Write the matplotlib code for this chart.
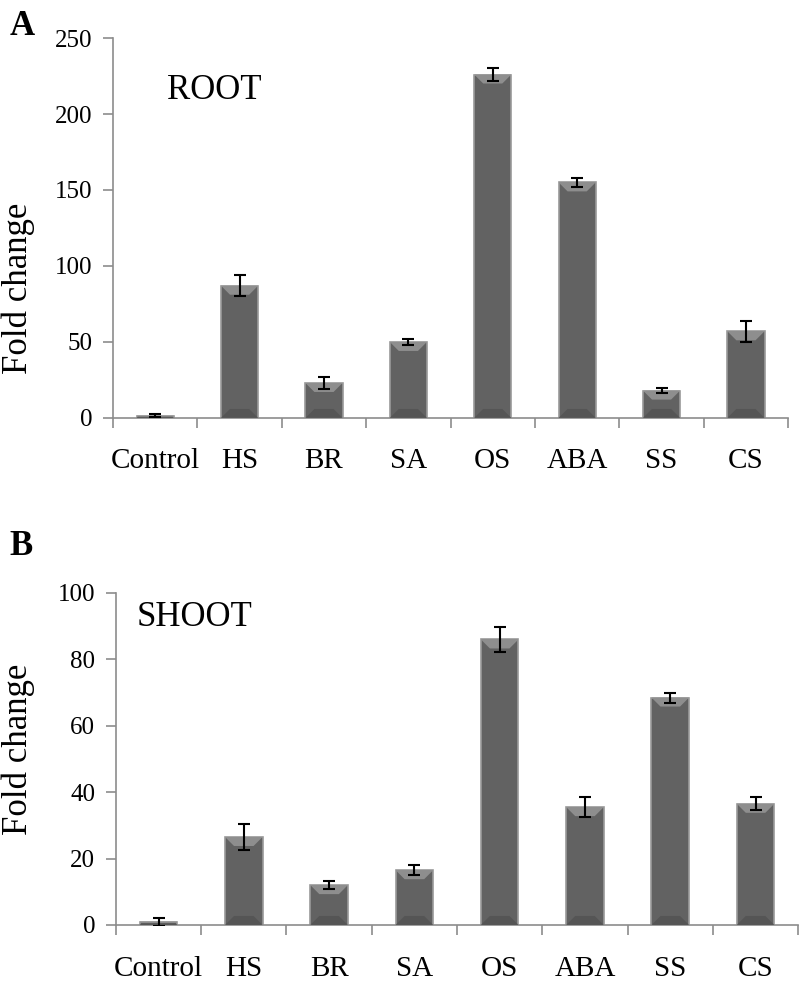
import matplotlib.pyplot as plt
from matplotlib.patches import Polygon

plt.rcParams['font.family'] = ['Liberation Serif', 'DejaVu Serif']

categories = ["Control", "HS", "BR", "SA", "OS", "ABA", "SS", "CS"]

root_values = [1.5, 87, 23, 50, 226, 155, 18, 57]
root_errors = [1, 7, 4, 2, 4, 3, 1.5, 7]

shoot_values = [1, 26.5, 12, 16.5, 86, 35.5, 68.5, 36.5]
shoot_errors = [1.2, 4, 1.2, 1.5, 3.8, 3, 1.5, 2]

fig = plt.figure(figsize=(7.99, 9.88), dpi=100)

axA = fig.add_axes([0.1414, 0.577, 0.845, 0.3845])
axB = fig.add_axes([0.145, 0.0638, 0.854, 0.336])

axis_gray = "#8c8c8c"


def draw_panel(ax, values, errors, ymax, step, title, title_xy):
    x = range(len(categories))
    width = 0.44
    ax.bar(x, values, width=width, color="#626262", edgecolor="#9a9a9a",
           linewidth=1.2, zorder=2)
    # bevel on top and bottom of each bar (about 9 px deep)
    px_per_unit = ax.get_position().height * fig.bbox.height / ymax
    px_per_cat = ax.get_position().width * fig.bbox.width / len(categories)
    d = 9 / px_per_unit
    for i, v in enumerate(values):
        l, r = i - width / 2, i + width / 2
        dd = min(d, v / 2)
        dx = dd * px_per_unit / px_per_cat
        ax.add_patch(Polygon([(l, v), (r, v), (r - dx, v - dd), (l + dx, v - dd)],
                             closed=True, facecolor="#8e8e8e", edgecolor="none", zorder=3))
        ax.add_patch(Polygon([(l, 0), (r, 0), (r - dx, dd), (l + dx, dd)],
                             closed=True, facecolor="#555555", edgecolor="none", zorder=3))
    ax.errorbar(x, values, yerr=errors, fmt="none", ecolor="black",
                elinewidth=1.5, capsize=4, capthick=1.5, zorder=4)
    ax.set_xlim(-0.5, len(categories) - 0.5)
    ax.set_ylim(0, ymax)
    ax.set_yticks(range(0, ymax + 1, step))
    ax.set_xticks([i - 0.5 for i in range(len(categories) + 1)], minor=False)
    ax.set_xticklabels([])
    ax.set_xticks(list(x), minor=True)
    ax.set_xticklabels(categories, minor=True, fontsize=21)
    ax.tick_params(axis="x", which="minor", length=0, pad=22)
    ax.tick_params(axis="x", which="major", length=7, color=axis_gray, width=1.2)
    ax.tick_params(axis="y", length=7, color=axis_gray, width=1.2, labelsize=18, pad=8)
    for s in ["top", "right"]:
        ax.spines[s].set_visible(False)
    for s in ["left", "bottom"]:
        ax.spines[s].set_color(axis_gray)
        ax.spines[s].set_linewidth(1.2)
    ax.set_ylabel("Fold change", fontsize=25)
    ax.text(title_xy[0], title_xy[1], title, transform=ax.transAxes,
            fontsize=25, va="baseline")


draw_panel(axA, root_values, root_errors, 250, 50, "ROOT", (0.08, 0.84))
draw_panel(axB, shoot_values, shoot_errors, 100, 20, "SHOOT", (0.03, 0.90))

axA.yaxis.set_label_coords(-0.115, 0.34)
axB.yaxis.set_label_coords(-0.118, 0.53)

fig.text(0.012, 0.965, "A", fontsize=25, fontweight="bold", va="baseline")
fig.text(0.012, 0.438, "B", fontsize=25, fontweight="bold", va="baseline")

fig.savefig("out.png", dpi=100)
